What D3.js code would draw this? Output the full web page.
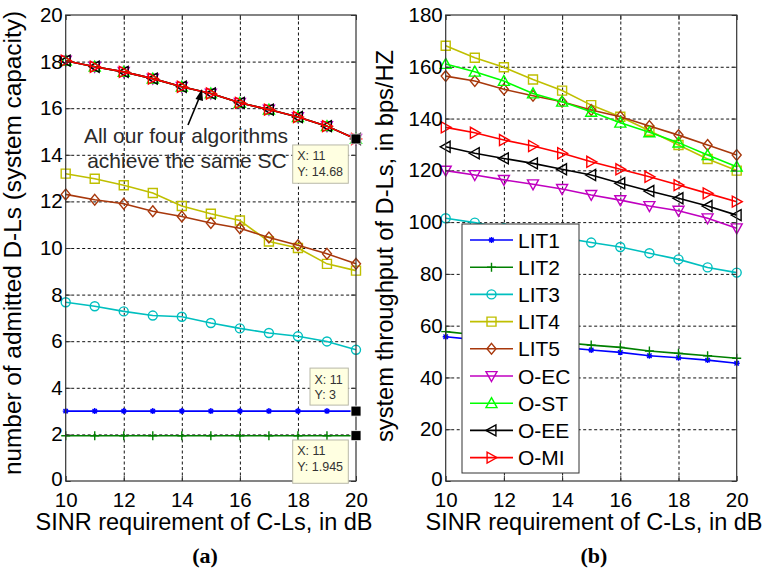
<!DOCTYPE html>
<html>
<head>
<meta charset="utf-8">
<script src="https://cdn.jsdelivr.net/npm/d3@7"></script>
<style>
  body { margin: 0; background: #fff; }
  svg { display: block; font-family: "Liberation Sans", Arial, sans-serif; }
</style>
</head>
<body>
<svg id="fig" width="764" height="573"></svg>
<script>
// x values (SINR requirement, dB) and tick labels
const sinr = [10, 11, 12, 13, 14, 15, 16, 17, 18, 19, 20];
const xTicks = [10, 12, 14, 16, 18, 20];
const capTicks = [0, 2, 4, 6, 8, 10, 12, 14, 16, 18, 20];
const thrTicks = [0, 20, 40, 60, 80, 100, 120, 140, 160, 180];

const seriesNames = ["LIT1", "LIT2", "LIT3", "LIT4", "LIT5", "O-EC", "O-ST", "O-EE", "O-MI"];
const seriesColors = ["#0000ff", "#008000", "#00bfbf", "#bfbf00", "#a8380c", "#c000c0", "#00ff00", "#000000", "#ff0000"];
const seriesMarkers = ["*", "+", "o", "s", "d", "v", "^", "<", ">"];

// (a) system capacity
const capLIT1 = [3, 3, 3, 3, 3, 3, 3, 3, 3, 3, 3];
const capLIT2 = [1.945, 1.945, 1.945, 1.945, 1.945, 1.945, 1.945, 1.945, 1.945, 1.945, 1.945];
const capLIT3 = [7.67, 7.5, 7.28, 7.1, 7.05, 6.78, 6.55, 6.35, 6.21, 5.99, 5.63];
const capLIT4 = [13.19, 12.97, 12.69, 12.36, 11.8, 11.47, 11.18, 10.28, 10.0, 9.32, 9.03];
const capLIT5 = [12.3, 12.07, 11.9, 11.58, 11.35, 11.07, 10.85, 10.45, 10.12, 9.75, 9.32];
const capOurs = [18.04, 17.78, 17.56, 17.27, 16.92, 16.63, 16.23, 15.94, 15.62, 15.23, 14.68];

// (b) system throughput
const thrLIT1 = [55.7, 54.6, 53.6, 52.6, 51.6, 50.6, 49.7, 48.4, 47.6, 46.7, 45.5];
const thrLIT2 = [57.7, 56.5, 55.4, 54.5, 53.5, 52.5, 51.6, 50.2, 49.3, 48.4, 47.4];
const thrLIT3 = [101.5, 99.8, 97.6, 95.8, 94.0, 92.1, 90.4, 88.0, 85.6, 82.5, 80.5];
const thrLIT4 = [168.1, 163.5, 159.8, 155.1, 150.8, 145.2, 140.7, 135.3, 129.8, 124.4, 119.9];
const thrLIT5 = [156.4, 154.5, 151.3, 148.8, 146.5, 143.3, 140.7, 137.1, 133.6, 129.8, 125.9];
const thrOEC = [119.9, 118.2, 116.3, 114.6, 112.8, 110.5, 108.5, 106.2, 104.4, 101.5, 97.6];
const thrOST = [161.1, 158.1, 154.5, 149.7, 146.5, 142.6, 138.4, 134.7, 130.7, 125.9, 121.4];
const thrOEE = [129.1, 126.6, 124.6, 122.7, 120.4, 118.2, 115.0, 112.0, 109.2, 106.2, 102.7];
const thrOMI = [136.6, 134.5, 131.7, 129.4, 126.6, 123.3, 120.4, 117.5, 114.3, 111.1, 107.9];

const capSeries = [capLIT1, capLIT2, capLIT3, capLIT4, capLIT5, capOurs, capOurs, capOurs, capOurs];
const thrSeries = [thrLIT1, thrLIT2, thrLIT3, thrLIT4, thrLIT5, thrOEC, thrOST, thrOEE, thrOMI];

// data tips shown in (a)
const tipValues = [14.68, 3, 1.945];
const tipLabelX = 11;

const svg = d3.select("#fig");
const plotTop = 15, plotBottom = 481;

// marker outlines in the MATLAB style
function markerPath(type) {
  const s = 4.5, t = 5.5;
  switch (type) {
    case "o": return `M${s},0A${s},${s} 0 1,1 ${-s},0A${s},${s} 0 1,1 ${s},0Z`;
    case "s": return `M${-s},${-s}H${s}V${s}H${-s}Z`;
    case "d": return `M0,${-s * 1.2}L${s},0L0,${s * 1.2}L${-s},0Z`;
    case "^": return `M0,${-t}L${t},${t * 0.8}L${-t},${t * 0.8}Z`;
    case "v": return `M0,${t}L${t},${-t * 0.8}L${-t},${-t * 0.8}Z`;
    case "<": return `M${-t},0L${t * 0.8},${-t}L${t * 0.8},${t}Z`;
    case ">": return `M${t},0L${-t * 0.8},${-t}L${-t * 0.8},${t}Z`;
    case "+": return `M${-s},0H${s}M0,${-s}V${s}`;
    case "*": return "M-3,0H3M0,-3V3M-2.2,-2.2L2.2,2.2M-2.2,2.2L2.2,-2.2";
  }
}

function drawPanel(cfg) {
  const x = d3.scaleLinear().domain([10, 20]).range([cfg.left, cfg.right]);
  const y = d3.scaleLinear().domain([0, cfg.yMax]).range([plotBottom, plotTop]);
  const g = svg.append("g");
  const w = cfg.right - cfg.left, h = plotBottom - plotTop;

  // dotted grid
  g.append("g").attr("transform", `translate(0,${plotBottom})`)
    .call(d3.axisBottom(x).tickValues(xTicks.slice(1, -1)).tickSize(-h).tickFormat(""))
    .call(a => a.select(".domain").remove())
    .selectAll("line").attr("stroke", "#111").attr("stroke-dasharray", "3,2.5");
  g.append("g").attr("transform", `translate(${cfg.left},0)`)
    .call(d3.axisLeft(y).tickValues(cfg.yTicks.slice(1, -1)).tickSize(-w).tickFormat(""))
    .call(a => a.select(".domain").remove())
    .selectAll("line").attr("stroke", "#111").attr("stroke-dasharray", "3,2.5");

  // series
  const line = d3.line().x((d, i) => x(sinr[i])).y(d => y(d));
  cfg.series.forEach((vals, k) => {
    const sg = g.append("g");
    sg.append("path").attr("d", line(vals))
      .attr("fill", "none").attr("stroke", seriesColors[k]).attr("stroke-width", 1.6);
    sg.selectAll("path.m").data(vals).join("path").attr("class", "m")
      .attr("transform", (d, i) => `translate(${x(sinr[i])},${y(d)})`)
      .attr("d", markerPath(seriesMarkers[k]))
      .attr("fill", "none").attr("stroke", seriesColors[k]).attr("stroke-width", 1.4);
  });

  // box and inward ticks
  g.append("rect").attr("x", cfg.left).attr("y", plotTop).attr("width", w).attr("height", h)
    .attr("fill", "none").attr("stroke", "#333").attr("stroke-width", 1.2);
  g.append("g").attr("transform", `translate(0,${plotBottom})`)
    .call(d3.axisBottom(x).tickValues(xTicks).tickSize(-5).tickFormat(""))
    .call(a => a.select(".domain").remove()).selectAll("line").attr("stroke", "#333");
  g.append("g").attr("transform", `translate(0,${plotTop})`)
    .call(d3.axisTop(x).tickValues(xTicks).tickSize(-5).tickFormat(""))
    .call(a => a.select(".domain").remove()).selectAll("line").attr("stroke", "#333");
  g.append("g").attr("transform", `translate(${cfg.left},0)`)
    .call(d3.axisLeft(y).tickValues(cfg.yTicks).tickSize(-5).tickFormat(""))
    .call(a => a.select(".domain").remove()).selectAll("line").attr("stroke", "#333");
  g.append("g").attr("transform", `translate(${cfg.right},0)`)
    .call(d3.axisRight(y).tickValues(cfg.yTicks).tickSize(-5).tickFormat(""))
    .call(a => a.select(".domain").remove()).selectAll("line").attr("stroke", "#333");

  // tick labels
  g.append("g").attr("transform", `translate(0,${plotBottom})`)
    .call(d3.axisBottom(x).tickValues(xTicks).tickSize(0).tickPadding(11))
    .call(a => a.select(".domain").remove())
    .selectAll("text").attr("fill", "#000").style("font-size", "20.5px")
    .style("font-family", '"Liberation Sans", Arial, sans-serif');
  g.append("g").attr("transform", `translate(${cfg.left},0)`)
    .call(d3.axisLeft(y).tickValues(cfg.yTicks).tickSize(0).tickPadding(3))
    .call(a => a.select(".domain").remove())
    .selectAll("text").attr("fill", "#000").style("font-size", "20.5px")
    .style("font-family", '"Liberation Sans", Arial, sans-serif')
    .attr("dy", d => d === 0 ? "0.2em" : "0.32em");

  // axis labels
  g.append("text").attr("x", cfg.xLabelX).attr("y", 530).attr("text-anchor", "middle")
    .attr("textLength", 337).attr("lengthAdjust", "spacingAndGlyphs")
    .style("font-size", "23.5px").text("SINR requirement of C-Ls, in dB");
  g.append("text").attr("transform", `translate(${cfg.yLabelX},${cfg.yLabelY}) rotate(-90)`)
    .attr("text-anchor", "middle")
    .attr("textLength", cfg.yLabelLen).attr("lengthAdjust", "spacingAndGlyphs")
    .style("font-size", "23.5px").text(cfg.yLabel);

  // panel tag
  g.append("text").attr("x", cfg.tagX).attr("y", 563).attr("text-anchor", "middle")
    .style("font-family", '"Liberation Serif", "Times New Roman", serif')
    .style("font-weight", "bold").style("font-size", "22px").text(cfg.tag);

  return { g, x, y };
}

// (a)
const pa = drawPanel({
  left: 65.7, right: 356, yMax: 20, yTicks: capTicks, series: capSeries,
  yLabel: "number of admitted D-Ls (system capacity)", yLabelX: 21, yLabelY: 243, yLabelLen: 464,
  xLabelX: 204, tag: "(a)", tagX: 205
});

// annotation
const ann = pa.g.append("g");
ann.append("text").attr("x", 186).attr("y", 143).attr("text-anchor", "middle")
  .attr("fill", "#2a2a2a").style("font-size", "21px").text("All our four algorithms");
ann.append("text").attr("x", 187).attr("y", 168).attr("text-anchor", "middle")
  .attr("fill", "#2a2a2a").style("font-size", "21px").text("achieve the same SC");
ann.append("line").attr("x1", 188).attr("y1", 125).attr("x2", 200).attr("y2", 96)
  .attr("stroke", "#000").attr("stroke-width", 1.6);
ann.append("path").attr("d", "M202,89L195.5,99L203,101Z").attr("fill", "#000");

// data tips: box offsets relative to the tipped point
const tipBoxes = [
  { dx: -63.3, dy: 6, w: 55.6, h: 38.3 },
  { dx: -46, dy: -43, w: 38.3, h: 37 },
  { dx: -63.3, dy: 4.3, w: 55.6, h: 43.3 }
];
tipValues.forEach((v, i) => {
  const px = pa.x(20), py = pa.y(v), b = tipBoxes[i];
  const tg = pa.g.append("g");
  tg.append("rect").attr("x", px + b.dx).attr("y", py + b.dy).attr("width", b.w).attr("height", b.h)
    .attr("fill", "#ffffe1").attr("stroke", "#b8b8a8").attr("stroke-width", 1);
  tg.append("text").attr("x", px + b.dx + 4.5).attr("y", py + b.dy + 15.5)
    .attr("fill", "#333").style("font-size", "12.5px").text(`X: ${tipLabelX}`);
  tg.append("text").attr("x", px + b.dx + 4.5).attr("y", py + b.dy + 31)
    .attr("fill", "#333").style("font-size", "12.5px").text(`Y: ${v}`);
  tg.append("rect").attr("x", px - 5).attr("y", py - 5).attr("width", 10).attr("height", 10)
    .attr("fill", "#000").attr("stroke", "#fff").attr("stroke-width", 0.8);
});

// (b)
drawPanel({
  left: 445.7, right: 736.7, yMax: 180, yTicks: thrTicks, series: thrSeries,
  yLabel: "system throughput of D-Ls, in bps/HZ", yLabelX: 393, yLabelY: 246, yLabelLen: 392,
  xLabelX: 594, tag: "(b)", tagX: 594
});

// legend
const legend = svg.append("g").attr("transform", "translate(462,224)");
legend.append("rect").attr("width", 117).attr("height", 249)
  .attr("fill", "#fff").attr("stroke", "#333").attr("stroke-width", 1);
seriesNames.forEach((name, i) => {
  const row = legend.append("g").attr("transform", `translate(0,${16 + i * 27.2})`);
  row.append("line").attr("x1", 8).attr("x2", 51).attr("stroke", seriesColors[i]).attr("stroke-width", 1.6);
  row.append("path").attr("transform", "translate(29.5,0)").attr("d", markerPath(seriesMarkers[i]))
    .attr("fill", "none").attr("stroke", seriesColors[i]).attr("stroke-width", 1.4);
  row.append("text").attr("x", 56).attr("dy", "0.36em").style("font-size", "21px").text(name);
});
</script>
</body>
</html>
